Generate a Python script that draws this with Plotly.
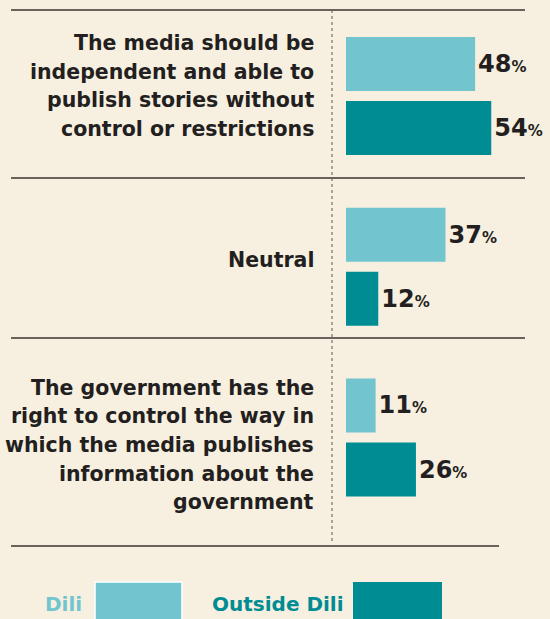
import plotly.graph_objects as go

# Survey answers, top to bottom
statements = [
    "The media should be<br>independent and able to<br>publish stories without<br>control or restrictions",
    "Neutral",
    "The government has the<br>right to control the way in<br>which the media publishes<br>information about the<br>government",
]
keys = ["independent", "neutral", "government"]
dili = [48, 37, 11]
outside_dili = [54, 12, 26]
series_names = ["Dili", "Outside Dili"]

W, H = 550, 619
BG = "#F7F0E0"
INK = "#231F20"
LIGHT = "#72C4CE"
DARK = "#008C93"


def px_x(p):
    return p / W


def px_y(p):
    return 1 - p / H


label_tpl = "<b>%{x}</b><span style='font-size:15px'><b>%</b></span>"

fig = go.Figure()
for name, vals, col in [(series_names[0], dili, LIGHT), (series_names[1], outside_dili, DARK)]:
    fig.add_trace(go.Bar(
        y=keys, x=vals, name=name, orientation="h",
        marker=dict(color=col, line=dict(width=0)),
        texttemplate=label_tpl, textposition="outside",
        textfont=dict(family="DejaVu Sans", size=24, color=INK),
        constraintext="none", cliponaxis=False, showlegend=False,
        hoverinfo="skip",
    ))

# Horizontal rules separating the statements
shapes = []
for yy in (10, 178, 338):
    shapes.append(dict(type="line", xref="paper", yref="paper",
                       x0=px_x(11), x1=px_x(525), y0=px_y(yy), y1=px_y(yy),
                       line=dict(color="#3A3535", width=1.6)))
shapes.append(dict(type="line", xref="paper", yref="paper",
                   x0=px_x(11), x1=px_x(499), y0=px_y(546), y1=px_y(546),
                   line=dict(color="#3A3535", width=1.6)))
# Dotted divider between labels and bars
shapes.append(dict(type="line", xref="paper", yref="paper",
                   x0=px_x(332), x1=px_x(332), y0=px_y(10), y1=px_y(542),
                   line=dict(color="#5E5656", width=1, dash="dot")))

# Legend swatches
shapes.append(dict(type="rect", xref="paper", yref="paper",
                   x0=px_x(95), x1=px_x(182), y0=px_y(582), y1=px_y(625),
                   fillcolor=LIGHT, line=dict(color="white", width=1.5)))
shapes.append(dict(type="rect", xref="paper", yref="paper",
                   x0=px_x(353), x1=px_x(442), y0=px_y(582), y1=px_y(625),
                   fillcolor=DARK, line=dict(width=0)))

# Statement labels, one annotation per line for a looser leading
annotations = []
label_centers = [86, 260, 445]
LEADING = 28.5
for txt, cy in zip(statements, label_centers):
    lines = txt.split("<br>")
    top = cy - LEADING * (len(lines) - 1) / 2
    for i, line in enumerate(lines):
        annotations.append(dict(
            text="<b>" + line + "</b>", xref="paper", yref="paper",
            x=px_x(316), y=px_y(top + i * LEADING), xanchor="right", yanchor="middle",
            align="right", showarrow=False,
            font=dict(family="DejaVu Sans", size=20.5, color=INK),
        ))

annotations.append(dict(text="<b>" + series_names[0] + "</b>", xref="paper", yref="paper",
                        x=px_x(43), y=px_y(604), xanchor="left", yanchor="middle",
                        showarrow=False,
                        font=dict(family="DejaVu Sans", size=20, color=LIGHT)))
annotations.append(dict(text="<b>" + series_names[1] + "</b>", xref="paper", yref="paper",
                        x=px_x(210), y=px_y(604), xanchor="left", yanchor="middle",
                        showarrow=False,
                        font=dict(family="DejaVu Sans", size=20, color=DARK)))

# Axis scales: bars start at x=346px, 2.69 px per percent; 170.75 px per category
PX_PER_PCT = 2.69
PX_PER_CAT = 170.75
FIRST_CENTER = 96
fig.update_layout(
    width=W, height=H,
    margin=dict(l=0, r=0, t=0, b=0),
    paper_bgcolor=BG, plot_bgcolor=BG,
    barmode="group", bargap=0.25, bargroupgap=0.156,
    xaxis=dict(range=[-346 / PX_PER_PCT, (W - 346) / PX_PER_PCT],
               visible=False, fixedrange=True),
    yaxis=dict(type="category", categoryorder="array", categoryarray=keys,
               range=[(H - FIRST_CENTER) / PX_PER_CAT, -FIRST_CENTER / PX_PER_CAT],
               visible=False, fixedrange=True),
    shapes=shapes, annotations=annotations,
)

fig.write_html("out.html")
